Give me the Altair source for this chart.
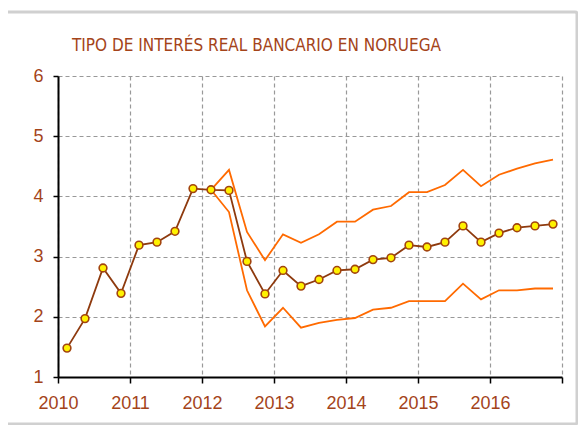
import altair as alt
import pandas as pd

years = [2010]*4 + [2011]*4 + [2012]*4 + [2013]*4 + [2014]*4 + [2015]*4 + [2016]*4
quarters = [1, 2, 3, 4] * 7
real_rate = [1.48, 1.97, 2.81, 2.39,
             3.19, 3.24, 3.42, 4.13,
             4.11, 4.10, 2.92, 2.38,
             2.77, 2.51, 2.62, 2.77,
             2.79, 2.95, 2.98, 3.19,
             3.16, 3.24, 3.51, 3.24,
             3.39, 3.48, 3.51, 3.54]
# bands start at 2012 Q1
upper_band = [4.11, 4.44, 3.41, 2.94,
              3.37, 3.23, 3.37, 3.58,
              3.58, 3.78, 3.84, 4.07,
              4.07, 4.19, 4.44, 4.17,
              4.36, 4.46, 4.55, 4.61]
lower_band = [4.11, 3.74, 2.44, 1.84,
              2.15, 1.82, 1.90, 1.95,
              1.98, 2.12, 2.15, 2.26,
              2.26, 2.26, 2.55, 2.29,
              2.44, 2.44, 2.47, 2.47]
year_ticks = [2010, 2011, 2012, 2013, 2014, 2015, 2016, 2017]
y_ticks = [1, 2, 3, 4, 5, 6]

main = pd.DataFrame({"year": years, "q": quarters, "v": real_rate})
main["t"] = main["year"] + (main["q"] - 0.5) / 4

bands = []
for name, vals in [("upper", upper_band), ("lower", lower_band)]:
    for i, v in enumerate(vals):
        bands.append({"serie": name, "year": years[8 + i], "q": quarters[8 + i], "v": v})
bands = pd.DataFrame(bands)
bands["t"] = bands["year"] + (bands["q"] - 0.5) / 4

BROWN = "#A4441A"
xs = alt.Scale(domain=[2010, 2017], nice=False, zero=False)
ys = alt.Scale(domain=[1, 6], nice=False, zero=False)

xax = alt.Axis(values=year_ticks, format="d", labelExpr="datum.value == 2017 ? '' : datum.label",
               title=None, grid=True, labelFlush=False, labelOverlap=False)
yax = alt.Axis(values=y_ticks, format="d", title=None, grid=True, labelFlush=False)

frame = alt.Chart(pd.DataFrame({"a": [0]})).mark_rect(
    fill="white", fillOpacity=0, stroke="#D0D0D0", strokeWidth=3, cornerRadius=2
).encode(x=alt.value(-53), x2=alt.value(519), y=alt.value(-64), y2=alt.value(348))

band_lines = alt.Chart(bands).mark_line(color="#FF6A00", strokeWidth=1.8).encode(
    x=alt.X("t:Q", scale=xs, axis=xax),
    y=alt.Y("v:Q", scale=ys, axis=yax),
    detail="serie:N",
)

main_line = alt.Chart(main).mark_line(
    color="#8E3A0E", strokeWidth=1.8,
    point=alt.OverlayMarkDef(shape="circle", size=60, filled=True, fill="#FFF200",
                             stroke="#A2440F", strokeWidth=1.6, opacity=1)
).encode(
    x=alt.X("t:Q", scale=xs),
    y=alt.Y("v:Q", scale=ys),
)

chart = alt.layer(frame, band_lines, main_line).properties(
    width=504, height=301,
    autosize=alt.AutoSizeParams(type="none"),
    padding={"left": 50, "top": 68, "right": 16, "bottom": 48},
    title=alt.TitleParams(
        "TIPO DE INTERÉS REAL BANCARIO EN NORUEGA",
        font="Liberation Sans Narrow, DejaVu Sans Condensed, sans-serif",
        fontSize=17, fontWeight="normal", color=BROWN,
        anchor="start", frame="group", dx=14, offset=-44,
    ),
).configure_view(stroke=None).configure_axis(
    domainColor="black", domainWidth=2,
    tickColor="black", tickWidth=1.5,
    gridColor="#999999", gridDash=[4, 3], gridWidth=1.2,
    labelFont="Liberation Sans", labelFontSize=18, labelColor=BROWN,
).configure_axisX(tickSize=6, labelPadding=11).configure_axisY(tickSize=5, labelPadding=10)

chart.save("out.html", embed_options={"renderer": "svg", "actions": False})
